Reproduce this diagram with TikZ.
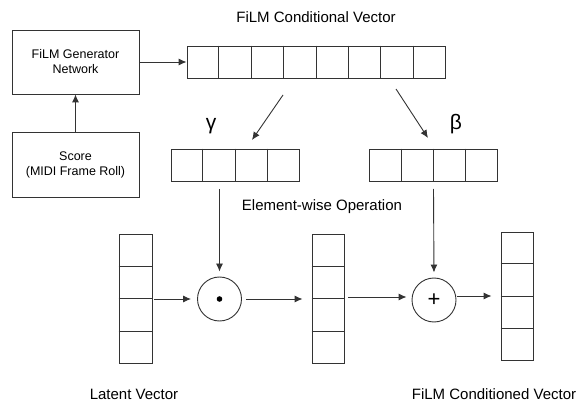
\documentclass[tikz,border=0pt]{standalone}
\usepackage{fontspec}
\setmainfont{Liberation Sans}
\usetikzlibrary{positioning}
\usetikzlibrary{calc}
\usetikzlibrary{arrows.meta}
\tikzset{
  block/.style={draw=black!80, line width=0.9pt, minimum width=127pt, minimum height=64pt, align=center, font=\fontsize{12.5}{15}\selectfont},
  vec/.style={draw=black!80, line width=0.9pt, inner sep=0pt},
  cell/.style={black!80, line width=0.9pt},
  op/.style={draw=black!80, line width=0.9pt, circle, minimum size=44pt, inner sep=0pt},
  lbl/.style={font=\fontsize{15}{18}\selectfont},
  greek/.style={font=\fontsize{21}{24}\selectfont},
  link/.style={-{Latex[length=8pt,width=7pt]}, black!80, line width=0.9pt}
}

\begin{document}
\begin{tikzpicture}[x=1pt, y=-1pt]
\useasboundingbox (0,0) rectangle (578,403);

% generator side
\node[block] (gen) at (75.5,62) {FiLM Generator\\Network};
\node[block, minimum height=65pt] (score) at (75.5,164.5) {Score\\(MIDI Frame Roll)};
\draw[link] (score.north) -- (gen.south);

% conditional vector
\node[vec, minimum width=258pt, minimum height=32pt] (cond) at (316,62) {};
\foreach \i in {1,...,7}
  \draw[cell] ($(cond.north west)!\i/8!(cond.north east)$) -- ($(cond.south west)!\i/8!(cond.south east)$);
\node[lbl] (condlbl) at (316,17) {FiLM Conditional Vector};
\draw[link] (gen.east) -- (cond.west);

% gamma and beta
\node[vec, minimum width=128pt, minimum height=32pt] (gam) at (235,165) {};
\node[vec, minimum width=128pt, minimum height=32pt] (bet) at (433.5,165) {};
\foreach \v in {gam,bet}
  \foreach \i in {1,2,3}
    \draw[cell] ($(\v.north west)!\i/4!(\v.north east)$) -- ($(\v.south west)!\i/4!(\v.south east)$);
\node[greek] (gamlbl) at (211,126) {γ};
\node[greek] (betlbl) at (456,124) {β};

\coordinate (gfrom) at (283,95);
\coordinate (gto) at (252,140);
\coordinate (bfrom) at (396,89);
\coordinate (bto) at (428,138);
\draw[link] (gfrom) -- (gto);
\draw[link] (bfrom) -- (bto);

\node[lbl] (oplbl) at (322,207) {Element-wise Operation};

% latent path
\node[vec, minimum width=33pt, minimum height=129pt] (lat) at (135.5,298.5) {};
\node[vec, minimum width=32pt, minimum height=129pt] (mid) at (328,298.5) {};
\node[vec, minimum width=32pt, minimum height=128pt] (out) at (517,296) {};
\foreach \v in {lat,mid,out}
  \foreach \i in {1,2,3}
    \draw[cell] ($(\v.north west)!\i/4!(\v.south west)$) -- ($(\v.north east)!\i/4!(\v.south east)$);

\node[op] (mul) at (219.5,299) {};
\fill (mul.center) circle (2.8);
\node[op, font=\fontsize{22}{24}\selectfont] (add) at (434,300) {+};

\coordinate (gdown) at (219.5,189);
\coordinate (bdown) at (433.5,189);
\draw[link, shorten >=5pt] (gdown) -- (mul.north);
\draw[link, shorten >=5pt] (bdown) -- (add.north);

\draw[link, shorten <=2pt, shorten >=6pt] (lat.east |- mul.west) -- (mul.west);
\draw[link, shorten <=4pt, shorten >=9pt] (mul.east) -- (mul.east -| mid.west);
\draw[link, shorten <=4pt, shorten >=5pt] ($(mid.east)+(0,-1.5)$) -- ($(add.west)+(0,-3)$);
\draw[link, shorten <=1pt, shorten >=9pt] ($(add.east)+(0,-4)$) -- ($(out.west)$);

\node[lbl] (latlbl) at (134,394) {Latent Vector};
\node[lbl] (outlbl) at (494,394) {FiLM Conditioned Vector};
\end{tikzpicture}
\end{document}
